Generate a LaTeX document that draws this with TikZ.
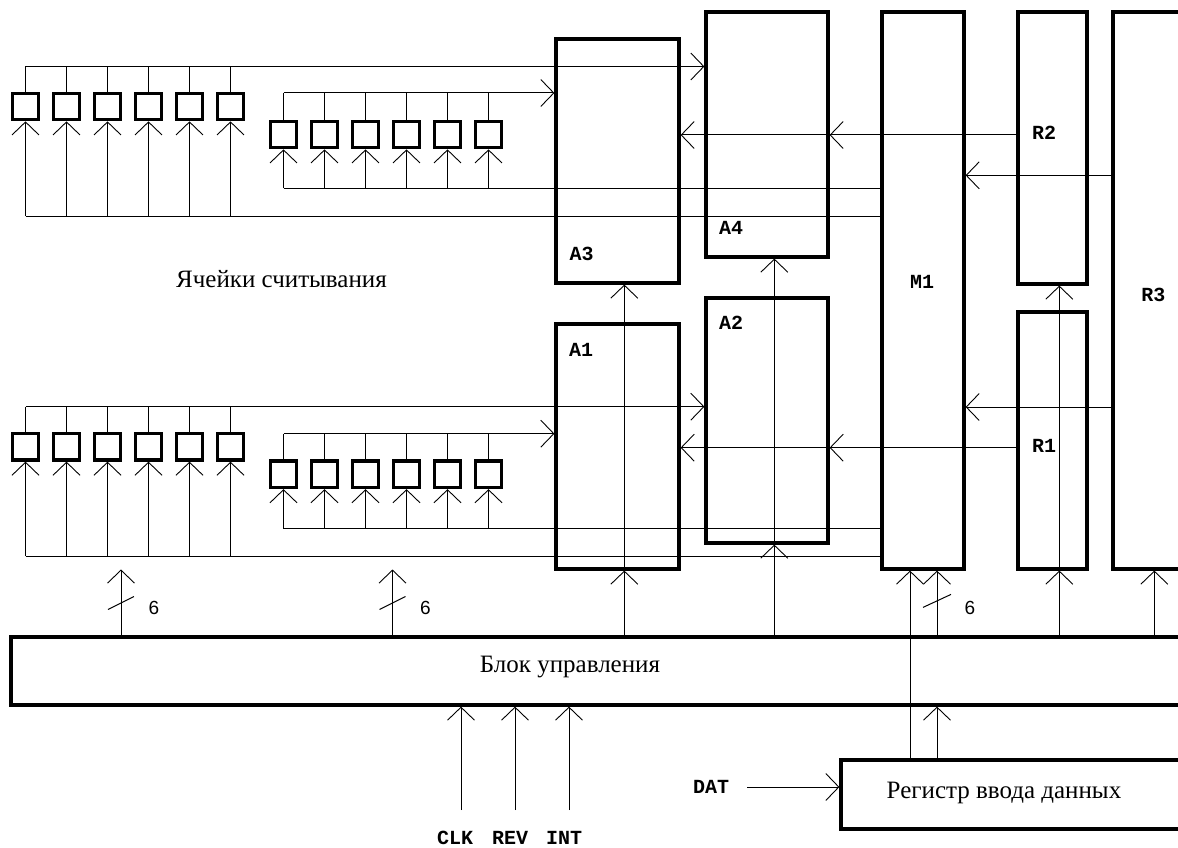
\documentclass[tikz,border=0pt]{standalone}
\usepackage{fontspec}
\setmainfont{Liberation Serif}
\newfontfamily\rufont{Liberation Serif}
\newfontfamily\lblfont[UprightFont={Liberation Mono Bold},BoldFont={Liberation Mono Bold}]{Liberation Mono}
\newfontfamily\numfont{Liberation Sans}
\usetikzlibrary{arrows.meta}
\tikzset{
  box/.style={draw, line width=3.2pt, inner sep=0pt, rectangle},
  cell/.style={draw, line width=3.2pt, minimum size=26.5pt, inner sep=0pt, rectangle},
  wire/.style={line width=1pt},
  arr/.style={wire, -{Straight Barb[length=13pt,width=27pt,line width=0.9pt]}},
  lbl/.style={font=\lblfont\bfseries\fontsize{20}{22}\selectfont, inner sep=0pt},
  rutext/.style={font=\rufont\fontsize{25}{27}\selectfont, inner sep=0pt},
  num/.style={font=\numfont\fontsize{19}{21}\selectfont, inner sep=0pt},
}
\begin{document}
\begin{tikzpicture}[x=1pt,y=-1pt]
\clip (0,0) rectangle (1178,848);
\fill[white] (0,0) rectangle (1178,848);
% boxes
\node[box, minimum width=123pt, minimum height=244pt] (A3) at (617.5,161) {};
\node[box, minimum width=122pt, minimum height=245pt] (A4) at (767,134.5) {};
\node[box, minimum width=123pt, minimum height=245pt] (A1) at (617.5,446.5) {};
\node[box, minimum width=122pt, minimum height=245pt] (A2) at (767,420.5) {};
\node[box, minimum width=82pt, minimum height=557pt] (M1) at (923,290.5) {};
\node[box, minimum width=69pt, minimum height=272pt] (R2) at (1052.5,148) {};
\node[box, minimum width=69pt, minimum height=257pt] (R1) at (1052.5,440.5) {};
\node[box, minimum width=100pt, minimum height=557pt] (R3) at (1163,290.5) {};
\node[box, minimum width=1200pt, minimum height=68pt] (blk) at (611,671) {};
\node[box, minimum width=380pt, minimum height=69pt] (reg) at (1031,794.5) {};
% labels
\node[lbl] (lA3) at (581.7,254) {A3};
\node[lbl] (lA4) at (731,227.5) {A4};
\node[lbl] (lA1) at (581,349.5) {A1};
\node[lbl] (lA2) at (731,323.3) {A2};
\node[lbl] (lM1) at (922,282.3) {M1};
\node[lbl] (lR2) at (1044,133) {R2};
\node[lbl] (lR1) at (1044,446) {R1};
\node[lbl] (lR3) at (1153.3,295) {R3};
\node[rutext] (tcells) at (281.5,279) {Ячейки считывания};
\node[rutext] (tblk) at (570,667) {Блок управления};
\node[rutext] (treg) at (1004,793) {Регистр ввода данных};
% cell groups
\foreach \g/\xs/\cy/\ty/\by/\target in {1/25.5/106.5/66.5/216/A4, 2/283.5/134.5/93/188/A3, 3/25.5/446.8/406.7/556/A2, 4/283.5/474.3/433.7/528.7/A1}{
  \coordinate (t\g) at (\xs,\ty);
  \coordinate (b\g) at (\xs,\by);
  \foreach \i in {0,...,5}{
    \node[cell] (c\g-\i) at (\xs+41*\i,\cy) {};
    \draw[wire] (c\g-\i.north) -- (c\g-\i.north |- t\g);
    \draw[arr] (c\g-\i.south |- b\g) -- (c\g-\i.south);
  }
  \draw[arr] (t\g) -- (t\g -| \target.west);
  \draw[wire] (b\g) -- (b\g -| M1.west);
}
% horizontal links
\coordinate (h1) at (0,135);
\coordinate (h2) at (0,175.3);
\coordinate (h3) at (0,407);
\coordinate (h4) at (0,447.7);
\draw[arr] (h1 -| R2.west) -- (h1 -| A3.east);
\draw[arr] (h1 -| M1.west) -- (h1 -| A4.east);
\draw[arr] (h2 -| R3.west) -- (h2 -| M1.east);
\draw[arr] (h3 -| R3.west) -- (h3 -| M1.east);
\draw[arr] (h4 -| R1.west) -- (h4 -| A1.east);
\draw[arr] (h4 -| M1.west) -- (h4 -| A2.east);
% vertical links from control block
\coordinate (v1) at (624.3,0);
\coordinate (v2) at (774.3,0);
\coordinate (v3) at (1059.3,0);
\coordinate (v4) at (1154.3,0);
\coordinate (v5) at (910,0);
\coordinate (v6) at (937,0);
\draw[arr] (v1 |- blk.north) -- (v1 |- A3.south);
\draw[arr] (v1 |- blk.north) -- (v1 |- A1.south);
\draw[arr] (v2 |- blk.north) -- (v2 |- A4.south);
\draw[arr] (v2 |- blk.north) -- (v2 |- A2.south);
\draw[arr] (v3 |- blk.north) -- (v3 |- R2.south);
\draw[arr] (v3 |- blk.north) -- (v3 |- R1.south);
\draw[arr] (v4 |- blk.north) -- (v4 |- R3.south);
\draw[arr] (v5 |- reg.north) -- (v5 |- M1.south);
\draw[arr] (v6 |- reg.north) -- (v6 |- blk.south);
\draw[arr] (v6 |- blk.north) -- (v6 |- M1.south);
\draw[wire] (v6 |- blk.north) ++(-14,-28) -- ++(28,-13);
\node[num] (n3) at (970,608) {6};
% buses to cells
\coordinate (k1) at (121,569.5);
\coordinate (k2) at (392.5,569.5);
\draw[arr] (k1 |- blk.north) -- (k1);
\draw[arr] (k2 |- blk.north) -- (k2);
\draw[wire] (k1) ++(-13,40) -- ++(26,-13);
\draw[wire] (k2) ++(-13,40) -- ++(26,-13);
\node[num] (n1) at (154,608) {6};
\node[num] (n2) at (425.5,608) {6};
% inputs
\coordinate (iclk) at (461,810);
\coordinate (irev) at (515,810);
\coordinate (iint) at (569,810);
\draw[arr] (iclk) -- (iclk |- blk.south);
\draw[arr] (irev) -- (irev |- blk.south);
\draw[arr] (iint) -- (iint |- blk.south);
\node[lbl] (lclk) at (455,838) {CLK};
\node[lbl] (lrev) at (510,838) {REV};
\node[lbl] (lint) at (564,838) {INT};
\node[lbl] (ldat) at (711,787) {DAT};
\coordinate (dat) at (747,787);
\draw[arr] (dat) -- (dat -| reg.west);
\end{tikzpicture}
\end{document}
